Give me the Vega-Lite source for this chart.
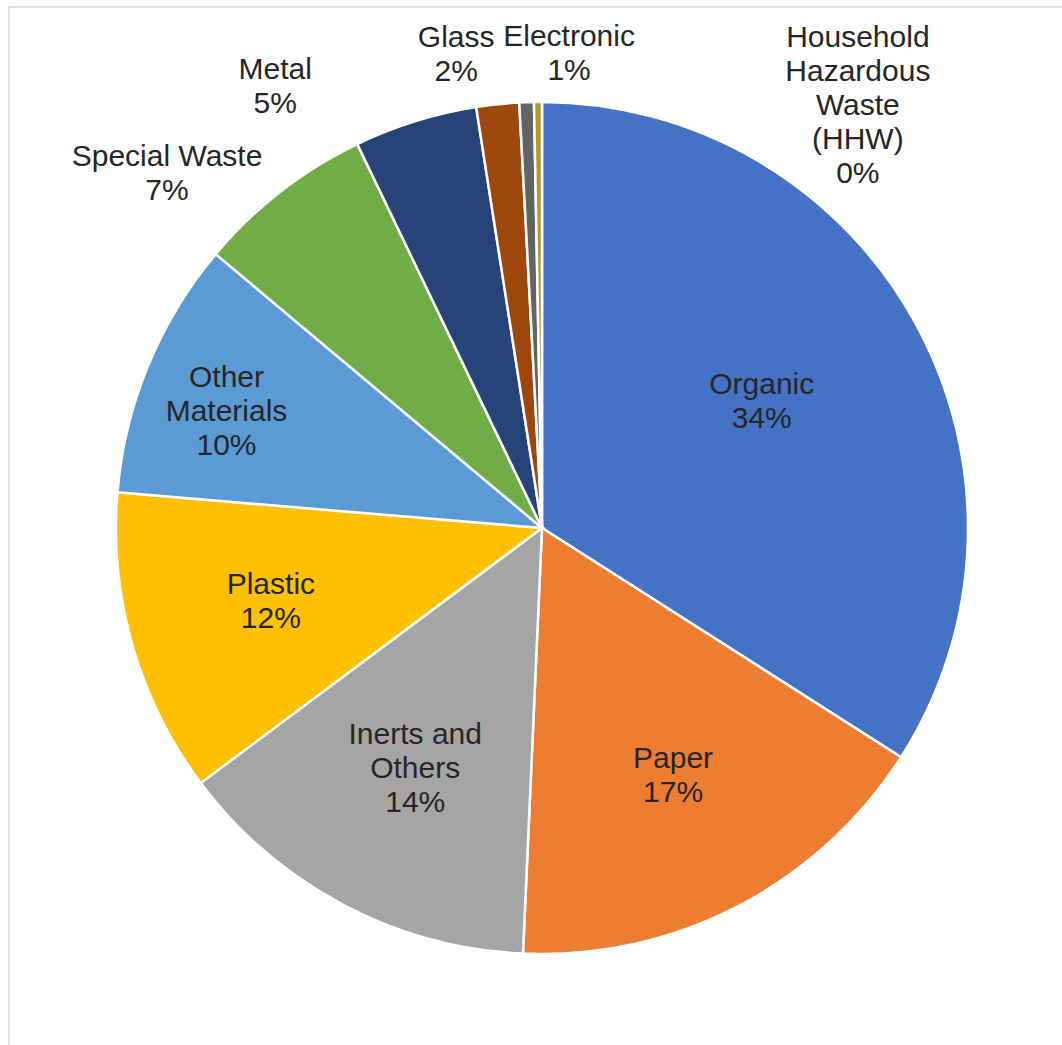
{
  "$schema": "https://vega.github.io/schema/vega-lite/v6.json",
  "width": 1066,
  "height": 1042,
  "autosize": {"type": "none"},
  "padding": {"left": 9, "top": 7, "right": -13, "bottom": -4},
  "background": "white",
  "view": {"stroke": "#d9d9d9", "strokeWidth": 1.5},
  "config": {"text": {"font": "Liberation Sans", "fontSize": 30, "lineHeight": 34, "lineBreak": "\n", "fill": "#262626", "align": "center", "baseline": "middle"}},
  "data": {"values": [
    {"idx": 1, "category": "Organic", "value": 34.05, "label": "Organic\n34%"},
    {"idx": 2, "category": "Paper", "value": 16.67, "label": "Paper\n17%"},
    {"idx": 3, "category": "Inerts and Others", "value": 14.08, "label": "Inerts and\nOthers\n14%"},
    {"idx": 4, "category": "Plastic", "value": 11.55, "label": "Plastic\n12%"},
    {"idx": 5, "category": "Other Materials", "value": 9.78, "label": "Other\nMaterials\n10%"},
    {"idx": 6, "category": "Special Waste", "value": 6.75, "label": "Special Waste\n7%"},
    {"idx": 7, "category": "Metal", "value": 4.67, "label": "Metal\n5%"},
    {"idx": 8, "category": "Glass", "value": 1.62, "label": "Glass\n2%"},
    {"idx": 9, "category": "Electronic", "value": 0.55, "label": "Electronic\n1%"},
    {"idx": 10, "category": "Household Hazardous Waste (HHW)", "value": 0.3, "label": "Household\nHazardous\nWaste\n(HHW)\n0%"}
  ]},
  "encoding": {
    "theta": {"field": "value", "type": "quantitative", "stack": true},
    "order": {"field": "idx", "type": "quantitative"}
  },
  "layer": [
    {
      "mark": {"type": "arc", "outerRadius": 426, "stroke": "white", "strokeWidth": 2.5},
      "encoding": {
        "color": {
          "field": "category", "type": "nominal", "legend": null,
          "scale": {
            "domain": ["Organic", "Paper", "Inerts and Others", "Plastic", "Other Materials", "Special Waste", "Metal", "Glass", "Electronic", "Household Hazardous Waste (HHW)"],
            "range": ["#4472C4", "#ED7D31", "#A5A5A5", "#FFC000", "#5B9BD5", "#70AD47", "#264478", "#9E480E", "#636363", "#B8962E"]
          }
        }
      }
    },
    {"mark": {"type": "text", "radius": 254, "dx": -3, "dy": -21},
     "encoding": {"text": {"condition": {"test": "datum.category === 'Organic'", "field": "label"}, "value": ""}}},
    {"mark": {"type": "text", "radius": 280, "dx": 2, "dy": -17},
     "encoding": {"text": {"condition": {"test": "datum.category === 'Paper'", "field": "label"}, "value": ""}}},
    {"mark": {"type": "text", "radius": 271, "dx": 0, "dy": -33},
     "encoding": {"text": {"condition": {"test": "datum.category === 'Inerts and Others'", "field": "label"}, "value": ""}}},
    {"mark": {"type": "text", "radius": 281, "dx": -1, "dy": -20},
     "encoding": {"text": {"condition": {"test": "datum.category === 'Plastic'", "field": "label"}, "value": ""}}},
    {"mark": {"type": "text", "radius": 338, "dx": -3, "dy": -21},
     "encoding": {"text": {"condition": {"test": "datum.category === 'Other Materials'", "field": "label"}, "value": ""}}},
    {"mark": {"type": "text", "radius": 440, "dx": -105, "dy": -24},
     "encoding": {"text": {"condition": {"test": "datum.category === 'Special Waste'", "field": "label"}, "value": ""}}},
    {"mark": {"type": "text", "radius": 440, "dx": -136, "dy": -38},
     "encoding": {"text": {"condition": {"test": "datum.category === 'Metal'", "field": "label"}, "value": ""}}},
    {"mark": {"type": "text", "radius": 440, "dx": -40, "dy": -52},
     "encoding": {"text": {"condition": {"test": "datum.category === 'Glass'", "field": "label"}, "value": ""}}},
    {"mark": {"type": "text", "radius": 440, "dx": 43, "dy": -51},
     "encoding": {"text": {"condition": {"test": "datum.category === 'Electronic'", "field": "label"}, "value": ""}}},
    {"mark": {"type": "text", "radius": 440, "dx": 320, "dy": -50},
     "encoding": {"text": {"condition": {"test": "datum.category === 'Household Hazardous Waste (HHW)'", "field": "label"}, "value": ""}}}
  ]
}
